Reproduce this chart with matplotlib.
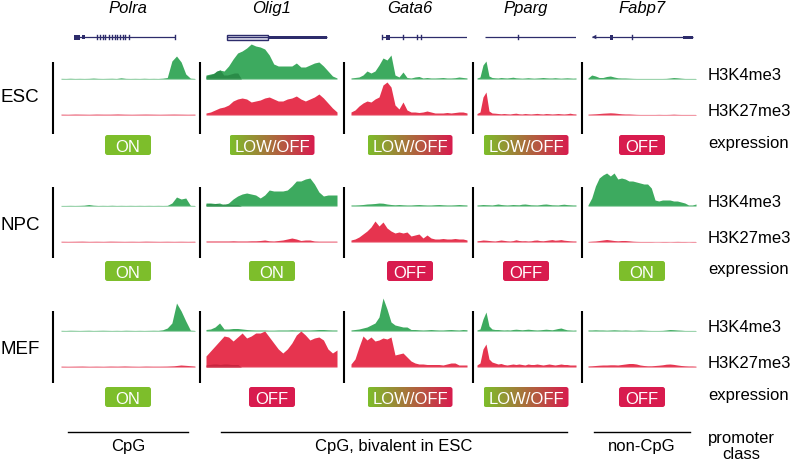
import numpy as np
import matplotlib
matplotlib.use("Agg")
import matplotlib.pyplot as plt
from matplotlib.patches import FancyBboxPatch, Rectangle, Polygon
from matplotlib.colors import LinearSegmentedColormap

plt.rcParams['font.family'] = ['Liberation Sans', 'DejaVu Sans']

# ---------------- data ----------------
genes = ["Polra", "Olig1", "Gata6", "Pparg", "Fabp7"]
cells = ["ESC", "NPC", "MEF"]
marks = ["H3K4me3", "H3K27me3"]

expression = {
    "ESC": ["ON", "LOW/OFF", "LOW/OFF", "LOW/OFF", "OFF"],
    "NPC": ["ON", "ON", "OFF", "OFF", "ON"],
    "MEF": ["ON", "OFF", "LOW/OFF", "LOW/OFF", "OFF"],
}
promoter_classes = ["CpG", "CpG, bivalent in ESC", "non-CpG"]

# signal tracks (arbitrary units)
polra_esc_k4 = [0.6, 0.5, 0.7, 0.5, 0.6, 0.5, 0.6, 0.9, 0.6, 0.5, 0.6, 0.7, 0.5, 1.2, 0.6,
                0.5, 0.6, 0.5, 0.7, 0.5, 0.6, 0.5, 0.8, 1.5, 18, 23, 17, 5, 0.8, 0.5]
polra_esc_k27 = [0.8, 0.7, 0.9, 0.8, 0.7, 0.9, 0.8, 0.8, 1.0, 0.8, 0.7, 0.8, 0.9, 0.8, 0.7,
                 0.8, 0.9, 0.8, 0.7, 0.8]
polra_npc_k4 = [0.5, 0.5, 0.6, 0.5, 0.6, 0.8, 1.5, 0.8, 0.5, 0.6, 0.5, 0.7, 0.5, 0.6, 0.5,
                0.6, 0.5, 0.6, 0.5, 0.6, 0.5, 0.6, 0.5, 0.6, 3, 9, 7, 8, 0.6, 0.5]
polra_npc_k27 = [0.7, 0.6, 0.7, 0.8, 0.6, 0.7, 0.6, 0.8, 0.7, 0.6, 0.7, 0.6, 0.8, 0.7, 0.6,
                 0.7, 0.6, 0.7, 0.6, 0.7]
polra_mef_k4 = [0.6, 0.5, 0.7, 0.6, 0.5, 0.6, 0.7, 0.5, 0.6, 0.7, 0.6, 0.5, 0.6, 0.5, 0.7,
                0.6, 0.5, 0.6, 0.5, 0.6, 0.7, 0.6, 1.2, 3, 8, 28, 20, 10, 0.8, 0.5]
polra_mef_k27 = [0.8, 0.7, 0.8, 0.9, 0.7, 0.8, 0.7, 0.9, 0.8, 1.0, 0.8, 0.7, 0.9, 0.8, 0.8,
                 0.9, 1.2, 2.0, 1.5, 0.9]

olig1_esc_k4 = [4, 5, 6, 9, 8, 13, 20, 26, 28, 31, 35, 33, 32, 30, 24, 15, 13, 13, 13, 13,
                16, 12, 12, 14, 16, 17, 13, 8, 3, 1]
olig1_esc_k27 = [2, 3, 5, 7, 8, 10, 14, 16, 17, 16, 13, 14, 15, 17, 18, 16, 14, 14, 16, 17,
                 19, 16, 14, 16, 18, 21, 17, 12, 7, 3]
olig1_npc_k4 = [3, 3, 2.5, 3, 1, 3, 7, 10, 12, 13, 12, 11, 8, 11, 16, 15, 15, 15, 16, 20,
                25, 25, 27, 28, 22, 14, 10, 11, 11, 11]
olig1_npc_k27 = [1, 1, 1, 1, 1, 1, 1.2, 1, 1, 1, 1.2, 1.2, 1.5, 2, 1.2, 1, 1.5, 2, 3, 4,
                 3, 1.5, 2, 2, 1, 0.8, 0.8, 0.8, 0.8, 0.8]
olig1_mef_k4 = [1.5, 2, 4, 8, 2, 2, 2.5, 2.5, 2, 1.5, 1.2, 1, 1, 1, 0.8, 0.8, 1, 1, 1, 1.2,
                1, 1, 1, 1, 1.2, 1.5, 1.5, 1.2, 1, 1]
olig1_mef_k27 = [11, 16, 21, 26, 31, 30, 26, 30, 34, 29, 31, 34, 34, 36, 30, 24, 18, 14, 18, 24,
                 32, 36, 32, 27, 29, 30, 27, 18, 14, 17]

# darker overlapping sub-tracks at the left end of the Olig1 locus (first 27% of width)
olig1_esc_k4_overlay = [3, 4, 5, 8, 9, 4, 4, 5, 6, 6, 0]
olig1_npc_k4_overlay = [2, 2.5, 2, 2.5, 1.5, 2, 2, 1.5, 1.5, 1.5, 0]
olig1_mef_k27_overlay = [2, 2.5, 3, 3, 2.5, 3, 3, 2.5, 2.5, 2.5, 0]

gata6_esc_k4 = [1, 1.5, 2, 4, 8, 6, 8, 14, 21, 19, 24, 4, 2, 7, 1.5, 1, 2, 2.5, 1, 1.5,
                1, 1, 1.2, 1.5, 1, 1, 1.3, 2, 1.5, 1]
gata6_esc_k27 = [3, 5, 9, 12, 14, 13, 16, 18, 30, 33, 28, 10, 6, 13, 5, 3, 3, 2.5, 3, 4,
                 3, 2, 2, 2, 2.5, 2, 2.5, 3, 3, 2]
gata6_npc_k4 = [1, 1, 1.2, 1.5, 2, 2.2, 2.5, 3, 2.8, 2, 1.5, 1.2, 1.5, 1.2, 1, 1, 1.3, 1.5,
                1.2, 1, 1, 1.3, 1.5, 1.2, 1, 1, 1.2, 1.5, 1.2, 1]
gata6_npc_k27 = [2, 3, 5, 8, 11, 15, 21, 16, 20, 14, 11, 9, 10, 9, 10, 6, 7, 8, 4, 7,
                 4, 3, 3, 3.5, 3, 3, 3.5, 3, 3, 2]
gata6_mef_k4 = [1, 1.5, 2, 3, 4, 6, 8, 14, 33, 22, 9, 6, 5, 4, 4, 1.5, 1.5, 1.2, 1, 1.2,
                1.5, 1.2, 1, 1, 1.3, 1.5, 1.2, 1, 1.5, 1.2]
gata6_mef_k27 = [3, 8, 20, 31, 27, 30, 26, 27, 29, 28, 30, 12, 13, 14, 10, 6, 4, 3, 3, 2.5,
                 2.5, 2.5, 2.5, 2, 3, 4, 4, 2, 2, 2]

pparg_esc_k4 = [1, 2, 14, 18, 3, 1.5, 1.2, 1, 1.5, 1.2, 1, 1.4, 1.8, 1.2, 1, 0.8, 1, 1.3,
                1, 0.8, 1, 1.2, 1.5, 1.2, 1, 1, 1.3, 1, 0.8, 1, 1.2, 1, 0.8, 1]
pparg_esc_k27 = [1.5, 3, 18, 23, 4, 2, 1.8, 1.5, 1.2, 1.5, 1.2, 1, 1.5, 1.8, 1.2, 1, 1.5, 1.2,
                 1, 1.3, 1.6, 1.2, 1, 1.5, 1.3, 1, 1.2, 1.5, 1.2, 1, 1.3, 1.8, 1.2, 1]
pparg_npc_k4 = [1, 1.2, 1.5, 1.3, 1.2, 1, 1.5, 2, 1.5, 1.2, 1, 1.2, 1.5, 1.3, 1.2, 1.8, 2, 1.6,
                1.2, 1.1, 1, 1.4, 1.8, 2, 1.6, 1.2, 1.1, 1, 1.5, 1.8, 1.4, 1.2, 1, 1]
pparg_npc_k27 = [1.2, 1.5, 2, 1.8, 1.5, 1.2, 1, 1.5, 2, 1.6, 1.2, 1, 1.4, 2.2, 1.5, 1.2, 1.3, 1,
                 1.2, 1.8, 2, 1.4, 1.2, 1.6, 2, 2.4, 1.8, 2, 2.4, 1.8, 1.5, 1.2, 1, 1]
pparg_mef_k4 = [1, 2, 12, 19, 5, 2, 1.5, 1.5, 1.2, 1, 1.2, 1, 1.5, 1.8, 1.5, 1.2, 1.5, 1.8,
                1.5, 1.2, 1, 1.2, 1.5, 1.8, 1.5, 1.2, 1.8, 2.5, 3, 2, 1.2, 1, 0.8, 1]
pparg_mef_k27 = [2, 4, 18, 23, 8, 5, 4, 3, 3.5, 2.5, 2, 2.5, 3, 2.5, 3, 2.5, 2, 3, 2.5, 2.5,
                 3, 2.5, 2, 2.5, 3, 2.5, 2, 2.5, 3, 2.5, 2.5, 2, 2, 2]

fabp7_esc_k4 = [1, 4, 3, 1.5, 1.5, 2.5, 3, 2, 1.2, 1, 1, 0.8, 0.6, 0.5, 0.5, 0.5, 0.5, 0.5,
                0.5, 0.5, 0.5, 0.6, 1, 1.5, 1.2, 0.8, 0.5, 0.5, 0.5, 0.5]
fabp7_esc_k27 = [0.8, 1, 1.2, 1.5, 1.8, 2, 2.2, 2, 1.6, 1.2, 1, 1, 0.8, 0.6, 0.5, 0.5, 0.5,
                 0.5, 0.5, 0.6, 0.5, 0.5, 0.6, 0.8, 0.6, 0.5, 0.5, 0.5, 0.5, 0.5]
fabp7_npc_k4 = [1, 8, 20, 28, 31, 33, 30, 33, 27, 28, 27, 25, 25, 24, 23, 22, 22, 18, 6, 5,
                6, 6, 6, 5, 5, 4, 3, 1, 1, 2]
fabp7_npc_k27 = [0.5, 0.8, 1, 1.5, 2, 2.5, 2, 1.5, 1.2, 1.5, 1.5, 1.2, 0.8, 0.6, 0.5, 0.5, 0.5,
                 0.5, 0.4, 0.4, 0.5, 0.5, 0.4, 0.5, 0.6, 0.5, 0.5, 0.4, 0.5, 0.5]
fabp7_mef_k4 = [1, 1, 1.2, 1, 1, 0.8, 1, 1.2, 1, 0.8, 1, 0.8, 0.6, 0.8, 1, 0.8, 0.6, 0.5, 0.5,
                0.5, 0.6, 1, 1.5, 1.3, 1, 0.8, 0.5, 0.5, 0.5, 0.5]
fabp7_mef_k27 = [1, 1.2, 1.5, 1.8, 2, 2, 2.2, 2.2, 2, 2.5, 3, 3.5, 3.5, 3, 2, 1.5, 1.2, 1.2,
                 1.5, 1.8, 2.2, 2.8, 3, 2.6, 2, 1.5, 1.2, 1, 1, 0.8]

tracks = {
    ("Polra", "ESC"): (polra_esc_k4, polra_esc_k27),
    ("Polra", "NPC"): (polra_npc_k4, polra_npc_k27),
    ("Polra", "MEF"): (polra_mef_k4, polra_mef_k27),
    ("Olig1", "ESC"): (olig1_esc_k4, olig1_esc_k27),
    ("Olig1", "NPC"): (olig1_npc_k4, olig1_npc_k27),
    ("Olig1", "MEF"): (olig1_mef_k4, olig1_mef_k27),
    ("Gata6", "ESC"): (gata6_esc_k4, gata6_esc_k27),
    ("Gata6", "NPC"): (gata6_npc_k4, gata6_npc_k27),
    ("Gata6", "MEF"): (gata6_mef_k4, gata6_mef_k27),
    ("Pparg", "ESC"): (pparg_esc_k4, pparg_esc_k27),
    ("Pparg", "NPC"): (pparg_npc_k4, pparg_npc_k27),
    ("Pparg", "MEF"): (pparg_mef_k4, pparg_mef_k27),
    ("Fabp7", "ESC"): (fabp7_esc_k4, fabp7_esc_k27),
    ("Fabp7", "NPC"): (fabp7_npc_k4, fabp7_npc_k27),
    ("Fabp7", "MEF"): (fabp7_mef_k4, fabp7_mef_k27),
}
overlays = {
    ("Olig1", "ESC", 0): olig1_esc_k4_overlay,
    ("Olig1", "NPC", 0): olig1_npc_k4_overlay,
    ("Olig1", "MEF", 1): olig1_mef_k27_overlay,
}
OVERLAY_SPAN = 0.27

# gene models (fractions of the track width)
gene_spans = [(0.097, 0.85), (0.16, 0.924), (0.267, 1.0), (0.08, 1.0), (0.037, 0.972)]
gene_blocks = [
    [(0.097, 0.14, 0.5), (0.16, 0.18, 0.35)],
    [(0.473, 0.924, 0.3)],
    [(0.30, 0.335, 0.5)],
    [],
    [(0.20, 0.235, 0.5), (0.88, 0.972, 0.3)],
]
gene_open_blocks = [[], [(0.16, 0.473, 0.5)], [], [], []]
gene_ticks = [
    [0.27, 0.29, 0.31, 0.33, 0.36, 0.38, 0.40, 0.42, 0.44, 0.46, 0.48, 0.51, 0.85],
    [],
    [0.267, 0.448, 0.569, 0.603],
    [0.41],
    [0.407],
]

# ---------------- layout / style ----------------
W, H = 792, 462
GREEN = '#3DAA5F'
RED = '#E6344F'
GREEN_DARK = '#2A8C48'
RED_DARK = '#C9243E'
GREEN_BASE = '#8CCB9F'
RED_BASE = '#E58496'
ON_C = '#7DBE2B'
OFF_C = '#D81B4E'
NAVY = '#2D2C6B'

col_x0 = [61, 206, 351, 477, 588]
col_x1 = [195, 337, 467, 576, 696]
col_cx = [128, 272, 410, 526, 642]
sep_x = [53, 200, 344, 473, 582]
k4_base = [79, 206, 331]
k27_base = [115, 242, 367]
bar_span = [(62, 134), (187, 258), (311, 383)]
expr_y = [145, 271, 397]
TH = 36

fig = plt.figure(figsize=(W / 100, H / 100), dpi=100)
ax0 = fig.add_axes([0, 0, 1, 1])
ax0.set_xlim(0, W)
ax0.set_ylim(H, 0)
ax0.axis('off')


def px_axes(x0, x1, ybot, h):
    return fig.add_axes([x0 / W, 1 - ybot / H, (x1 - x0) / W, h / H])


def draw_track(ax, vals, color, base_color, overlay=None, overlay_color=None):
    x = np.linspace(0, 1, len(vals))
    ax.plot([0, 1], [0, 0], color=base_color, lw=0.9, solid_capstyle='butt')
    ax.fill_between(x, 0, vals, color=color, lw=0, clip_on=False)
    if overlay is not None:
        xo = np.linspace(0, OVERLAY_SPAN, len(overlay))
        ax.fill_between(xo, 0, overlay, color=overlay_color, lw=0, clip_on=False)
    ax.set_xlim(0, 1)
    ax.set_ylim(0, TH)
    ax.axis('off')


# tracks
for gi, g in enumerate(genes):
    for ci, c in enumerate(cells):
        k4, k27 = tracks[(g, c)]
        a = px_axes(col_x0[gi], col_x1[gi], k4_base[ci], TH)
        draw_track(a, k4, GREEN, GREEN_BASE, overlays.get((g, c, 0)), GREEN_DARK)
        b = px_axes(col_x0[gi], col_x1[gi], k27_base[ci], TH)
        draw_track(b, k27, RED, RED_BASE, overlays.get((g, c, 1)), RED_DARK)

# gene models
for gi, g in enumerate(genes):
    ga = px_axes(col_x0[gi], col_x1[gi], 42, 10)
    ga.set_xlim(0, 1)
    ga.set_ylim(-1, 1)
    ga.axis('off')
    s, e = gene_spans[gi]
    ga.plot([s, e], [0, 0], color=NAVY, lw=0.9, solid_capstyle='butt')
    for (bs, be, hh) in gene_blocks[gi]:
        ga.add_patch(Rectangle((bs, -hh), be - bs, 2 * hh, color=NAVY, lw=0))
    for (bs, be, hh) in gene_open_blocks[gi]:
        ga.add_patch(Rectangle((bs, -hh), be - bs, 2 * hh, facecolor='#DCDCEA',
                               edgecolor=NAVY, lw=1.0))
    for t in gene_ticks[gi]:
        ga.plot([t, t], [-0.45, 0.45], color=NAVY, lw=1.0)
    if g == "Fabp7":
        ga.add_patch(Polygon([[s, 0], [s + 0.04, 0.45], [s + 0.04, -0.45]], closed=True,
                             color=NAVY, lw=0))
    ax0.text(col_cx[gi], 13, g, ha='center', va='baseline', fontsize=12,
             style='italic', color='black')

# separators
for ci in range(3):
    y0, y1 = bar_span[ci]
    for x in sep_x:
        ax0.plot([x, x], [y0, y1], color='black', lw=1.5, solid_capstyle='butt')

# row labels & right labels
for ci, c in enumerate(cells):
    ax0.text(20, (k4_base[ci] + k27_base[ci]) / 2 + 1, c, ha='center', va='center', fontsize=13.5)
    ax0.text(708, k4_base[ci] + 1, marks[0], ha='left', va='baseline', fontsize=12)
    ax0.text(708, k27_base[ci] + 1, marks[1], ha='left', va='baseline', fontsize=12)
    ax0.text(708, expr_y[ci] + 3, "expression", ha='left', va='baseline', fontsize=12)

# expression boxes
grad_cmap = LinearSegmentedColormap.from_list('lowoff', [ON_C, OFF_C])
grad = np.linspace(0, 1, 256).reshape(1, -1)
for ci, c in enumerate(cells):
    for gi, lab in enumerate(expression[c]):
        w = 85 if lab == "LOW/OFF" else 46
        hgt = 20
        x0 = col_cx[gi] - w / 2
        y0 = expr_y[ci] - hgt / 2
        if lab == "LOW/OFF":
            patch = FancyBboxPatch((x0, y0), w, hgt, boxstyle='round,pad=0,rounding_size=2.5',
                                   facecolor='none', edgecolor='none')
            ax0.add_patch(patch)
            im = ax0.imshow(grad, extent=(x0, x0 + w, y0 + hgt, y0), cmap=grad_cmap,
                            aspect='auto', interpolation='bilinear')
            im.set_clip_path(patch)
        else:
            fc = ON_C if lab == "ON" else OFF_C
            ax0.add_patch(FancyBboxPatch((x0, y0), w, hgt,
                                         boxstyle='round,pad=0,rounding_size=2.5',
                                         facecolor=fc, edgecolor='none'))
        ax0.text(col_cx[gi], expr_y[ci] + 1, lab, ha='center', va='center_baseline',
                 fontsize=12, color='white')

# promoter class
class_lines = [(68, 188), (221, 567), (594, 690)]
for (a, b), lab in zip(class_lines, promoter_classes):
    ax0.plot([a, b], [432, 432], color='black', lw=1.0)
    ax0.text((a + b) / 2, 446, lab, ha='center', va='center', fontsize=12)
ax0.text(741, 443, "promoter", ha='center', va='baseline', fontsize=12)
ax0.text(741, 459, "class", ha='center', va='baseline', fontsize=12)

ax0.set_xlim(0, W)
ax0.set_ylim(H, 0)

fig.savefig('out.png', dpi=100)
